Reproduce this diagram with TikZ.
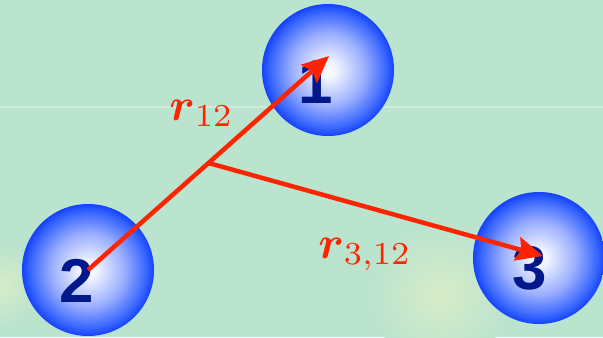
\documentclass[tikz,border=0pt]{standalone}
\usepackage{fontspec}
\usepackage{amsmath}
\usepackage{graphicx}
\newfontfamily\digitfont{Liberation Sans}
\usetikzlibrary{arrows.meta,calc}
\definecolor{bgc}{RGB}{187,228,206}
\definecolor{glowc}{RGB}{215,236,200}
\definecolor{digitc}{RGB}{0,24,140}
\definecolor{arrc}{RGB}{255,36,0}
\pgfdeclareradialshading{ballshade}{\pgfpoint{0bp}{0bp}}{rgb(0bp)=(1,1,1); rgb(3bp)=(0.95,0.96,1); rgb(14bp)=(0.6,0.68,1); rgb(22bp)=(0.22,0.4,1); rgb(25bp)=(0.08,0.26,1); rgb(50bp)=(0.08,0.26,1)}
\newcommand{\biglab}[1]{\scalebox{3.25}{$#1$}}
\begin{document}
\begin{tikzpicture}[x=0.025cm,y=-0.025cm,
  ball/.style={circle, minimum size=3.3cm, inner sep=0pt, shade, shading=ballshade},
  digit/.style={text=digitc, font=\digitfont\bfseries\fontsize{44}{48}\selectfont, inner sep=0pt},
  arr/.style={draw=arrc, line width=3.2pt, -{Stealth[length=19pt,width=17pt,inset=3pt]}},
  lab/.style={text=arrc, inner sep=0pt}]
\useasboundingbox (0,0) rectangle (603,337);
\fill[bgc] (0,0) rectangle (603,337);
\shade[inner color=glowc, outer color=bgc] (440,295) circle (70);
\shade[inner color=glowc, outer color=bgc] (0,285) circle (40);
\draw[white, opacity=0.3, line width=0.8pt] (0,107) -- (603,107);
% balls
\node[ball] (b1) at (328,70) {};
\node[ball] (b2) at (88,270) {};
\node[ball] (b3) at (539,258) {};
% digits
\node[digit] (n1) at (316,82) {1};
\node[digit] (n2) at (77,281) {2};
\node[digit] (n3) at (530,268) {3};
% arrow targets
\coordinate (t1) at (329,56);
\coordinate (t3) at (543,256);
\coordinate (m) at ($(b2.center)!0.5!(t1)$);
\draw[arr] (b2.center) -- (t1);
\draw[arr] (m) -- (t3);
% labels
\node[lab, anchor=base west] (l12) at (169,120) {\biglab{\boldsymbol{r}_{12}}};
\node[lab, anchor=base west] (l312) at (318,258) {\biglab{\boldsymbol{r}_{3,12}}};
\end{tikzpicture}
\end{document}
